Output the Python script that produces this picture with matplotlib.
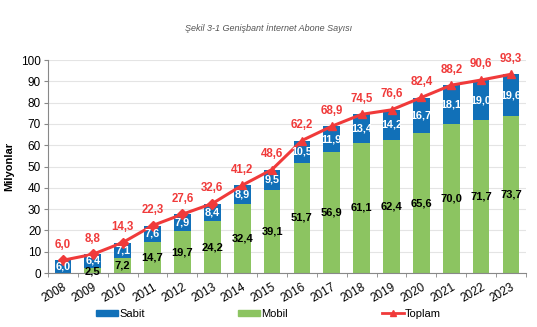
import numpy as np
import matplotlib.pyplot as plt
from matplotlib.lines import Line2D
from matplotlib.patches import Patch

years = [str(y) for y in range(2008, 2024)]
sabit = [6.0, 6.4, 7.1, 7.6, 7.9, 8.4, 8.9, 9.5, 10.5, 11.9, 13.4, 14.2, 16.7, 18.1, 19.0, 19.6]
mobil = [0.0, 2.5, 7.2, 14.7, 19.7, 24.2, 32.4, 39.1, 51.7, 56.9, 61.1, 62.4, 65.6, 70.0, 71.7, 73.7]
toplam = [6.0, 8.8, 14.3, 22.3, 27.6, 32.6, 41.2, 48.6, 62.2, 68.9, 74.5, 76.6, 82.4, 88.2, 90.6, 93.3]

BLUE = '#1170b8'
GREEN = '#8cc461'
RED = '#f03a3a'

plt.rcParams['font.family'] = ['Liberation Sans', 'DejaVu Sans']

fig = plt.figure(figsize=(5.37, 3.27), dpi=100)
ax = fig.add_axes([0.0894, 0.165, 0.89, 0.6515])

x = np.arange(len(years))
w = 0.56

ax.bar(x, mobil, w, color=GREEN, label='Mobil', zorder=2)
ax.bar(x, sabit, w, bottom=mobil, color=BLUE, label='Sabit', zorder=2)

# toplam çizgisi: ilk yıllar elmas, sonrası üçgen işaretli
ax.plot(x, toplam, color=RED, lw=2.2, zorder=3)
ax.plot(x[:6], toplam[:6], ls='none', marker='D', ms=5, color=RED, zorder=4)
ax.plot(x[6:], toplam[6:], ls='none', marker='^', ms=6, color=RED, zorder=4)

fmt = lambda v: f'{v:.1f}'.replace('.', ',')
for i in range(len(years)):
    if mobil[i] > 0:
        # küçük değerde etiket sabit etiketine değmesin diye biraz aşağı
        ym = mobil[i] / 2 if mobil[i] > 5 else 0.6
        ax.text(x[i], ym, fmt(mobil[i]), ha='center', va='center',
                fontsize=8, fontweight='bold', color='black', zorder=5)
    ax.text(x[i], mobil[i] + sabit[i] / 2, fmt(sabit[i]), ha='center', va='center',
            fontsize=7.8, fontweight='bold', color='white', zorder=5)
    ax.text(x[i], toplam[i] + 4.5, fmt(toplam[i]), ha='center', va='bottom',
            fontsize=8.3, fontweight='bold', color=RED, zorder=5)

ax.set_xlim(-0.5, len(years) - 0.5)
ax.set_ylim(0, 100)
ax.set_yticks(range(0, 101, 10))
ax.tick_params(axis='y', labelsize=8.5, length=3, color='#888888', pad=2)
ax.grid(axis='y', color='#e4e4e4', lw=0.8, zorder=0)

ax.set_xticks(x)
ax.set_xticklabels(years, rotation=30, ha='right', rotation_mode='anchor', fontsize=8.5)
ax.tick_params(axis='x', which='major', length=0, pad=6)
ax.set_xticks(np.arange(-0.5, len(years)), minor=True)
ax.tick_params(axis='x', which='minor', length=3, color='#888888')

for s in ['top', 'right']:
    ax.spines[s].set_visible(False)
for s in ['left', 'bottom']:
    ax.spines[s].set_color('#888888')
    ax.spines[s].set_linewidth(0.8)

ax.set_ylabel('Milyonlar', fontsize=8, fontweight='bold', labelpad=5)

fig.text(0.5, 0.915, 'Şekil 3-1 Genişbant İnternet Abone Sayısı', ha='center',
         va='center', fontsize=6.5, style='italic', color='#555555')

leg_h = [Patch(color=BLUE), Patch(color=GREEN),
         Line2D([], [], color=RED, lw=2, marker='^', ms=5)]
fig.legend(leg_h, ['Sabit', 'Mobil', 'Toplam'], loc='center', ncol=3,
           bbox_to_anchor=(0.5, 0.04), frameon=False, fontsize=8,
           columnspacing=8.4, handlelength=2.0, handleheight=0.5, handletextpad=0.1)

fig.savefig('out.png', dpi=100)
